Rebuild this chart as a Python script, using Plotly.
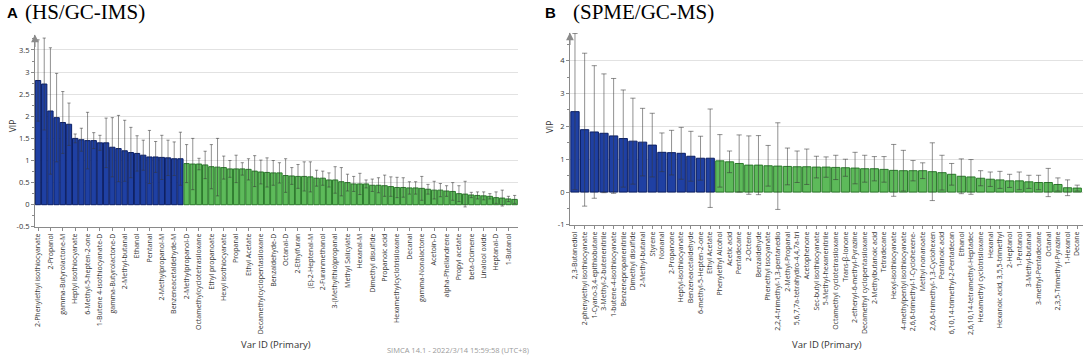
import plotly.graph_objects as go

# ---------------- Panel A (HS/GC-IMS) ----------------
labels_A = [
    "2-Phenylethyl isothiocyanate", "2-Propanol", "gamma-Butyrolactone-M", "Heptyl isothiocyanate",
    "6-Methyl-5-hepten-2-one", "1-Butene 4-isothiocyanate-D", "gamma-Butyrolactone-D", "2-Methyl-butanal",
    "Ethanol", "Pentanal", "2-Methylpropanol-M", "Benzeneacetaldehyde-M", "2-Methylpropanol-D",
    "Octamethylcyclotetrasiloxane", "Ethyl propanoate", "Hexyl isothiocyanate", "Propanal", "Ethyl Acetate",
    "Decamethylcyclopentasiloxane", "Benzaldehyde-D", "Octanal-D", "2-Ethylfuran", "(E)-2-Heptenal-M",
    "2-Furanmethanol", "3-(Methylthio)propanal", "Methyl Salicylate", "Hexanal-M", "Dimethyl disulfide",
    "Propanoic acid", "Hexamethylcyclotrisiloxane", "Decanal", "gamma-Nonalactone", "Acetoin-D",
    "alpha-Phellandrene", "Propyl acetate", "beta-Ocimene", "Linalool oxide", "Heptanal-D", "1-Butanol",
]
vip_A = [
    2.81, 2.73, 2.12, 1.97, 1.86, 1.82, 1.50, 1.47, 1.45, 1.45, 1.40, 1.40, 1.30, 1.27, 1.22, 1.18,
    1.16, 1.12, 1.08, 1.08, 1.07, 1.06, 1.04, 1.04,
    0.93, 0.92, 0.92, 0.90, 0.86, 0.85, 0.84, 0.81, 0.81, 0.81, 0.80, 0.76, 0.74, 0.73, 0.72, 0.72,
    0.66, 0.65, 0.64, 0.64, 0.63, 0.60, 0.60, 0.56, 0.56, 0.52, 0.50, 0.47, 0.47, 0.47, 0.44, 0.44,
    0.43, 0.41, 0.39, 0.39, 0.38, 0.38, 0.37, 0.35, 0.33, 0.33, 0.31, 0.30, 0.25, 0.24, 0.22, 0.21,
    0.20, 0.19, 0.16, 0.15, 0.13, 0.12,
]
err_A = [
    0.92, 1.04, 1.43, 1.00, 0.70, 0.48, 0.10, 0.26, 0.64, 0.18, 0.17, 0.56, 0.67, 0.75, 0.69, 0.57,
    0.40, 0.34, 0.60, 0.35, 0.50, 0.40, 0.38, 0.60,
    0.43, 0.58, 0.13, 0.31, 0.50, 0.65, 0.26, 0.19, 0.31, 0.14, 0.24, 0.35, 0.27, 0.33, 0.28, 0.23,
    0.38, 0.19, 0.27, 0.33, 0.34, 0.18, 0.16, 0.16, 0.30, 0.32, 0.19, 0.17, 0.24, 0.09, 0.14, 0.17,
    0.24, 0.22, 0.23, 0.22, 0.14, 0.14, 0.27, 0.11, 0.20, 0.15, 0.12, 0.20, 0.18, 0.29, 0.06, 0.08,
    0.09, 0.06, 0.13, 0.18, 0.06, 0.09,
]
n_blue_A = 24
yticks_A = [-0.5, 0, 0.5, 1, 1.5, 2, 2.5, 3, 3.5]
yticktext_A = ["-0.5", "0", "0.5", "1", "1.5", "2", "2.5", "3", "3.5"]

# ---------------- Panel B (SPME/GC-MS) ----------------
labels_B = [
    "2,3-Butanediol", "2-phenylethyl isothiocyanate", "1-Cyano-3,4-epithiobutane", "3-Methyl-2-butenenitrile",
    "1-butene-4-isothiocyanate", "Benzenepropanenitrile", "Dimethyl disulfide", "2-Methyl-butanal", "Styrene",
    "Nonanal", "2-Propanone", "Heptyl-isothiocyanate", "Benzeneacetaldehyde", "6-methyl-5-Hepten-2-one",
    "Ethyl Acetate", "Phenylethyl Alcohol", "Acetic acid", "Pentadecane", "2-Octene", "Benzaldehyde",
    "Phenethyl isocyanate", "2,2,4-trimethyl-1,3-pentanedio", "2-Methyl-Propanal",
    "5,6,7,7a-tetrahydro-4,4,7a-tri", "Acetophenone", "Sec-butyl isothiocyanate", "5-Methyl-hexanenitrile",
    "Octamethyl cyclotetrasiloxane", "Trans-β-Ionone", "2-ethenyl-6-methyl-Pyrazine",
    "Decamethyl cyclopentasiloxane", "2-Methylbutanoic acid", "Tetradecane", "Hexyl-isothiocyanate",
    "4-methylpentyl isothiocyanate", "2,6,6-trimethyl-1-Cyclohexene-", "Methyl nonanoate",
    "2,6,6-trimethyl-1,3-Cyclohexen", "Pentanoic acid", "6,10,14-trimethyl-2-Pentadecan", "Ethanol",
    "2,6,10,14-tetramethyl-Heptadec", "Hexamethyl cyclotrisiloxane", "Hexanal", "Hexanoic acid, 3,5,5-trimethyl",
    "2-Heptanol", "1-Pentanol", "3-Methyl-butanal", "3-methyl-Pentadecane", "Octanal",
    "2,3,5-Trimethyl-Pyrazine", "1-Hexanol", "Decane",
]
vip_B = [
    2.45, 1.90, 1.83, 1.79, 1.71, 1.63, 1.55, 1.52, 1.43, 1.21, 1.20, 1.18, 1.09, 1.03, 1.03,
    0.95, 0.92, 0.87, 0.82, 0.82, 0.80, 0.79, 0.78, 0.77, 0.77, 0.76,
    0.76, 0.75, 0.74, 0.73, 0.71, 0.71, 0.69, 0.66, 0.65, 0.65, 0.65, 0.62, 0.59, 0.54, 0.48, 0.46,
    0.42, 0.39, 0.37, 0.34, 0.34, 0.31, 0.29, 0.29, 0.23, 0.13, 0.12,
]
err_B = [
    2.38, 2.33, 2.02, 1.81, 1.75, 1.48, 1.31, 1.03, 0.97, 0.59, 0.68, 0.79, 0.76, 0.67, 1.50,
    0.80, 0.33, 0.87, 0.89, 0.90, 0.62, 1.32, 0.56, 0.48, 0.54, 0.33,
    0.31, 0.37, 0.26, 0.48, 0.41, 0.37, 0.39, 0.79, 0.62, 0.31, 0.24, 0.88, 0.53, 0.33, 0.53, 0.53,
    0.23, 0.22, 0.26, 0.20, 0.27, 0.20, 0.22, 0.43, 0.20, 0.24, 0.09,
]
n_blue_B = 15
yticks_B = [-1, 0, 1, 2, 3, 4]
yticktext_B = ["-1", "0", "1", "2", "3", "4"]

# ---------------- styling ----------------
W, H = 1084, 361
BLUE, BLUE_LINE = "#1f40a3", "#0b1f66"
GREEN, GREEN_LINE = "#5dba5a", "#2c7a2c"
ERR = "rgba(55,55,55,0.55)"
AXIS = "#8a8a8a"
GRID = "#e2e2e2"
TXT = "#333333"
FONT = "Open Sans"


def px(x):
    return x / W


def py(y):
    return 1 - y / H


fig = go.Figure()


def add_panel(vals, errs, nblue, xa, ya, cap):
    xs = list(range(len(vals)))
    fig.add_trace(go.Bar(
        x=xs, y=vals, width=0.86,
        marker=dict(color=[BLUE if i < nblue else GREEN for i in xs],
                    line=dict(color=[BLUE_LINE if i < nblue else GREEN_LINE for i in xs], width=1)),
        error_y=dict(type="data", array=errs, symmetric=True, color=ERR, thickness=1, width=cap),
        xaxis=xa, yaxis=ya, showlegend=False, hoverinfo="x+y",
    ))


add_panel(vip_A, err_A, n_blue_A, "x", "y", 1.6)
add_panel(vip_B, err_B, n_blue_B, "x2", "y2", 2.6)

common_x = dict(showgrid=False, zeroline=False, showline=True, linecolor=AXIS, linewidth=1,
                ticks="outside", ticklen=3, tickcolor=AXIS, tickangle=-90, ticklabeloverflow="allow",
                tickfont=dict(family=FONT, size=7, color=TXT))
common_y = dict(showgrid=True, gridcolor=GRID, gridwidth=1, zeroline=False, showline=True,
                linecolor=AXIS, linewidth=1, ticks="outside", ticklen=3, tickcolor=AXIS,
                tickfont=dict(family=FONT, size=7.5, color=TXT))

fig.update_layout(
    width=W, height=H, autosize=False,
    margin=dict(l=0, r=0, t=0, b=0),
    paper_bgcolor="white", plot_bgcolor="white",
    xaxis=dict(domain=[px(33), px(517)], anchor="y", range=[-0.5, 77.55],
               tickvals=list(range(0, len(vip_A), 2)), ticktext=labels_A, **common_x),
    yaxis=dict(domain=[py(230), py(35)], anchor="x", range=[-0.5, 3.85],
               tickvals=yticks_A, ticktext=yticktext_A,
               minor=dict(dtick=0.25, tick0=0, ticks="outside", ticklen=2, tickcolor=AXIS, showgrid=False),
               **common_y),
    xaxis2=dict(domain=[px(569), px(1083)], anchor="y2", range=[-0.52, 52.6],
                tickvals=list(range(len(vip_B))), ticktext=labels_B, **common_x),
    yaxis2=dict(domain=[py(228), py(33)], anchor="x2", range=[-1, 4.86],
                tickvals=yticks_B, ticktext=yticktext_B,
                minor=dict(dtick=0.5, tick0=0, ticks="outside", ticklen=2, tickcolor=AXIS, showgrid=False),
                **common_y),
)

ann = []
# axis arrows
for xr, yr in (("x domain", "y domain"), ("x2 domain", "y2 domain")):
    ann.append(dict(x=0, y=1, xref=xr, yref=yr, text="", showarrow=True, ax=0, ay=14,
                    arrowhead=2, arrowsize=1.3, arrowwidth=1.2, arrowcolor=AXIS))
# panel titles
ann += [
    dict(x=px(3), y=py(13), xref="paper", yref="paper", text="<b>A</b>", showarrow=False,
         xanchor="left", yanchor="middle", font=dict(family="Liberation Sans", size=15, color="black")),
    dict(x=px(21), y=py(12), xref="paper", yref="paper", text="(HS/GC-IMS)", showarrow=False,
         xanchor="left", yanchor="middle", font=dict(family="Liberation Serif", size=21, color="black")),
    dict(x=px(542), y=py(13), xref="paper", yref="paper", text="<b>B</b>", showarrow=False,
         xanchor="left", yanchor="middle", font=dict(family="Liberation Sans", size=15, color="black")),
    dict(x=px(570), y=py(12), xref="paper", yref="paper", text="(SPME/GC-MS)", showarrow=False,
         xanchor="left", yanchor="middle", font=dict(family="Liberation Serif", size=21, color="black")),
]
# axis titles
for xpix, ypix in ((10, 127), (548, 128)):
    ann.append(dict(x=px(xpix), y=py(ypix), xref="paper", yref="paper", text="VIP", showarrow=False,
                    textangle=-90, xanchor="center", yanchor="middle",
                    font=dict(family=FONT, size=8.5, color=TXT)))
for xpix in (275, 827):
    ann.append(dict(x=px(xpix), y=py(349), xref="paper", yref="paper", text="Var ID (Primary)",
                    showarrow=False, xanchor="center", yanchor="middle",
                    font=dict(family=FONT, size=9.5, color=TXT)))
ann.append(dict(x=px(457), y=py(355), xref="paper", yref="paper",
                text="SIMCA 14.1 - 2022/3/14 15:59:58 (UTC+8)", showarrow=False,
                xanchor="center", yanchor="middle", font=dict(family=FONT, size=7.5, color="#9a9a9a")))
fig.update_layout(annotations=ann)

fig.write_html(
    "out.html",
    config={"displayModeBar": False},
    post_script="document.body.style.margin='0px';document.body.style.overflow='hidden';",
)
